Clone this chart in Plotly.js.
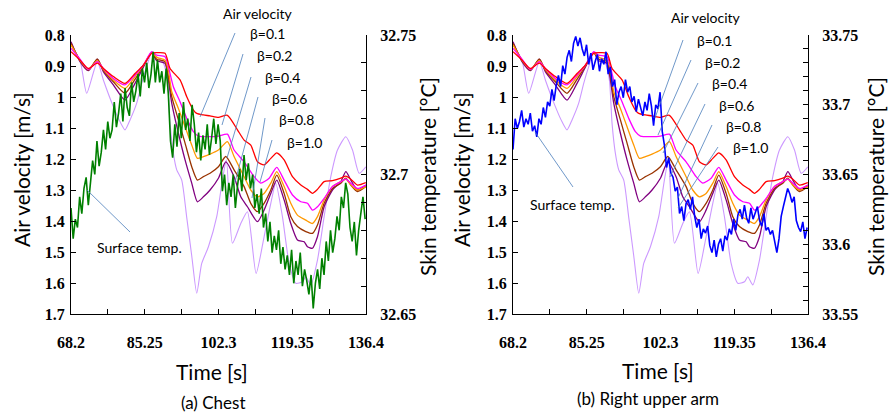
<!DOCTYPE html>
<html><head><meta charset="utf-8">
<script src="https://cdn.plot.ly/plotly-3.0.1.min.js"></script>
<style>html,body{margin:0;padding:0;background:#fff;}#chart{width:889px;height:416px;}</style>
</head><body><div id="chart"></div>
<script>
// ---------------- DATA ----------------
// Air velocity [m/s] for each beta (same air flow shown in both panels)
const tB01 = [68.2,70.28,72.21,74.29,75.68,77.99,80.69,83.0,84.93,86.86,88.02,89.94,91.1,93.41,94.96,96.5,97.27,98.81,100.35,102.28,104.36,106.68,108.22,109.76,111.3,112.84,114.39,115.77,117.47,119.4,121.33,122.87,124.02,125.18,126.72,128.65,130.58,131.74,132.89,134.43,136.36];
const vB01 = [0.854,0.881,0.908,0.891,0.908,0.934,0.956,0.924,0.897,0.859,0.857,0.859,0.908,0.945,0.999,1.042,1.053,1.058,1.061,1.066,1.059,1.106,1.139,1.155,1.209,1.219,1.198,1.18,1.203,1.257,1.284,1.298,1.311,1.298,1.273,1.27,1.262,1.255,1.265,1.284,1.276];

const tB02 = [68.2,70.28,72.21,74.29,75.68,77.99,80.69,83.0,84.93,86.86,88.02,89.94,90.71,91.87,93.41,94.96,96.5,97.66,100.35,102.28,104.36,105.9,108.22,110.53,112.07,114.0,115.77,117.47,119.4,121.33,122.87,124.02,125.18,126.72,128.65,130.58,131.74,132.89,134.43,136.36];
const vB02 = [0.843,0.878,0.911,0.886,0.908,0.94,0.961,0.929,0.897,0.854,0.865,0.87,0.902,0.967,1.015,1.069,1.112,1.126,1.128,1.126,1.12,1.171,1.209,1.257,1.278,1.262,1.227,1.268,1.316,1.338,1.343,1.365,1.354,1.327,1.289,1.273,1.265,1.278,1.295,1.284];

const tB04 = [68.2,70.28,72.21,74.29,75.68,77.99,80.69,83.0,84.93,86.86,88.02,89.94,90.71,91.49,93.03,94.57,96.11,97.42,98.81,100.35,102.28,104.36,105.9,108.22,109.76,111.3,112.84,114.39,115.77,117.47,119.01,120.55,122.48,124.02,125.18,126.72,128.65,130.58,131.74,132.89,134.43,136.36];
const vB04 = [0.832,0.881,0.911,0.883,0.911,0.945,0.972,0.934,0.897,0.857,0.872,0.881,0.913,0.983,1.037,1.096,1.155,1.198,1.192,1.184,1.171,1.144,1.192,1.257,1.3,1.322,1.311,1.278,1.241,1.289,1.343,1.381,1.397,1.408,1.386,1.332,1.289,1.273,1.265,1.284,1.3,1.289];

const tB06 = [68.2,70.28,72.21,74.29,75.68,77.99,80.69,83.0,84.93,86.86,88.02,89.94,90.71,91.49,93.03,94.57,96.11,97.42,98.81,100.35,102.28,103.98,105.9,108.22,109.76,111.3,112.84,114.39,115.77,117.47,119.01,120.55,122.48,124.02,125.18,126.72,128.65,130.58,131.74,132.89,134.43,136.36];
const vB06 = [0.827,0.883,0.913,0.878,0.913,0.951,0.988,0.943,0.9,0.857,0.878,0.886,0.934,0.999,1.074,1.149,1.225,1.268,1.257,1.246,1.225,1.192,1.235,1.289,1.343,1.37,1.343,1.3,1.252,1.311,1.386,1.418,1.434,1.44,1.413,1.343,1.295,1.278,1.262,1.284,1.305,1.289];

const tB08 = [68.2,70.28,72.21,74.29,75.68,77.99,80.69,83.0,84.93,86.86,88.02,89.94,90.71,91.49,93.03,94.57,96.11,97.42,98.81,100.35,102.28,103.98,105.9,107.45,108.99,111.3,112.84,114.39,115.77,117.47,119.01,120.55,122.1,122.87,124.02,125.18,126.72,128.65,130.58,131.74,132.89,134.43,136.36];
const vB08 = [0.822,0.886,0.915,0.878,0.918,0.961,1.01,0.956,0.904,0.857,0.883,0.891,0.945,1.02,1.117,1.203,1.278,1.338,1.322,1.3,1.262,1.209,1.257,1.322,1.354,1.402,1.365,1.311,1.268,1.332,1.408,1.461,1.467,1.483,1.488,1.451,1.354,1.3,1.273,1.241,1.268,1.3,1.284];

const tB10 = [68.2,70.28,71.83,74.29,75.68,77.99,79.54,80.69,81.85,83.39,84.55,85.7,86.86,88.02,89.56,90.48,91.1,91.87,92.64,93.8,94.96,96.11,97.27,98.42,99.97,101.89,103.2,104.13,105.52,107.45,108.99,110.99,112.84,114.39,115.54,117.08,118.63,120.17,121.71,122.48,123.64,125.18,126.72,128.26,129.81,131.74,133.28,134.82,136.36];
const vB10 = [0.832,0.881,0.988,0.886,0.945,1.031,1.08,1.106,1.074,1.02,0.956,0.902,0.857,0.87,0.891,0.945,1.085,1.182,1.235,1.268,1.389,1.512,1.633,1.537,1.483,1.386,1.268,1.203,1.472,1.408,1.37,1.569,1.451,1.343,1.278,1.386,1.537,1.601,1.596,1.58,1.606,1.526,1.386,1.257,1.171,1.128,1.171,1.246,1.225];

// Surface (skin) temperature samples [s]
const tSurf = [68.2,68.7,69.2,69.7,70.2,70.7,71.2,71.7,72.2,72.7,73.2,73.7,74.2,74.7,75.2,75.7,76.2,76.7,77.2,77.7,78.2,78.7,79.2,79.7,80.2,80.7,81.2,81.7,82.2,82.7,83.2,83.7,84.2,84.7,85.2,85.7,86.2,86.7,87.2,87.7,88.2,88.7,89.2,89.7,90.2,90.7,91.2,91.7,92.2,92.7,93.2,93.7,94.2,94.7,95.2,95.7,96.2,96.7,97.2,97.7,98.2,98.7,99.2,99.7,100.2,100.7,101.2,101.7,102.2,102.7,103.2,103.7,104.2,104.7,105.2,105.7,106.2,106.7,107.2,107.7,108.2,108.7,109.2,109.7,110.2,110.7,111.2,111.7,112.2,112.7,113.2,113.7,114.2,114.7,115.2,115.7,116.2,116.7,117.2,117.7,118.2,118.7,119.2,119.7,120.2,120.7,121.2,121.7,122.2,122.7,123.2,123.7,124.2,124.7,125.2,125.7,126.2,126.7,127.2,127.7,128.2,128.7,129.2,129.7,130.2,130.7,131.2,131.7,132.2,132.7,133.2,133.7,134.2,134.7,135.2,135.7,136.2];

// (a) Chest surface temperature [°C]
const chestTemp = [32.688,32.677,32.684,32.681,32.692,32.686,32.695,32.699,32.689,32.697,
32.705,32.700,32.712,32.703,32.708,32.716,32.709,32.719,32.713,32.716,
32.726,32.717,32.722,32.729,32.719,32.731,32.724,32.721,32.733,32.726,
32.730,32.736,32.728,32.738,32.733,32.740,32.731,32.736,32.744,32.733,
32.741,32.733,32.737,32.729,32.738,32.729,32.712,32.706,32.718,32.710,
32.722,32.713,32.726,32.716,32.720,32.712,32.725,32.718,32.708,32.715,
32.705,32.714,32.709,32.718,32.707,32.713,32.720,32.711,32.718,32.712,
32.694,32.700,32.689,32.697,32.692,32.700,32.688,32.696,32.702,32.694,
32.707,32.698,32.704,32.695,32.700,32.688,32.693,32.686,32.695,32.681,
32.686,32.676,32.683,32.672,32.678,32.673,32.680,32.668,32.674,32.666,
32.671,32.664,32.673,32.661,32.669,32.664,32.672,32.660,32.666,32.662,
32.657,32.664,32.652,32.661,32.666,32.659,32.670,32.664,32.676,32.669,
32.680,32.672,32.677,32.685,32.680,32.692,32.688,32.697,32.693,32.681,
32.676,32.683,32.671,32.680,32.687,32.692,32.684];

// (b) Right upper arm surface temperature [°C]
const armTemp = [33.668,33.690,33.683,33.688,33.696,33.684,33.690,33.686,33.694,33.681,
33.685,33.677,33.690,33.686,33.698,33.691,33.702,33.699,33.711,33.703,
33.714,33.721,33.713,33.728,33.722,33.734,33.739,33.731,33.744,33.749,
33.742,33.748,33.740,33.735,33.743,33.729,33.737,33.725,33.731,33.736,
33.724,33.733,33.729,33.738,33.722,33.727,33.713,33.718,33.700,33.709,
33.713,33.705,33.718,33.709,33.713,33.702,33.706,33.695,33.704,33.698,
33.692,33.702,33.696,33.708,33.699,33.685,33.700,33.697,33.709,33.681,
33.671,33.655,33.662,33.651,33.648,33.638,33.641,33.622,33.627,33.617,
33.629,33.632,33.625,33.634,33.620,33.612,33.618,33.604,33.611,33.608,
33.613,33.599,33.594,33.603,33.591,33.600,33.604,33.595,33.606,33.603,
33.611,33.607,33.618,33.610,33.621,33.625,33.618,33.628,33.619,33.615,
33.626,33.618,33.622,33.627,33.617,33.613,33.622,33.610,33.612,33.607,
33.610,33.601,33.594,33.604,33.620,33.627,33.634,33.640,33.636,33.630,
33.634,33.617,33.612,33.609,33.616,33.604,33.612];

// Tick labels
const xTickVals = [68.2,85.25,102.3,119.35,136.4];
const xTickText = ['68.2','85.25','102.3','119.35','136.4'];
const xMinorVals = [76.725,93.775,110.825,127.875];
const velTickVals = [0.8,0.9,1.0,1.1,1.2,1.3,1.4,1.5,1.6,1.7];
const velTickText = ['0.8','0.9','1','1.1','1.2','1.3','1.4','1.5','1.6','1.7'];
const chestTickVals = [32.65,32.7,32.75];
const chestTickText = ['32.65','32.7','32.75'];
const chestMinorVals = [32.66,32.67,32.68,32.69,32.71,32.72,32.73,32.74];
const armTickVals = [33.55,33.6,33.65,33.7,33.75];
const armTickText = ['33.55','33.6','33.65','33.7','33.75'];
const armMinorVals = [33.56,33.57,33.58,33.59,33.61,33.62,33.63,33.64,33.66,33.67,33.68,33.69,33.71,33.72,33.73,33.74];
const betaLabels = ['β=0.1','β=0.2','β=0.4','β=0.6','β=0.8','β=1.0'];

// ---------------- DRAWING ----------------
const W = 889, H = 416;
const fx = p => p / W, fy = p => 1 - p / H;

const air = [
  {t:tB10, v:vB10, c:'#cc99ff', w:1.1},
  {t:tB08, v:vB08, c:'#800080', w:1.3},
  {t:tB06, v:vB06, c:'#993300', w:1.3},
  {t:tB04, v:vB04, c:'#ff9900', w:1.3},
  {t:tB02, v:vB02, c:'#ff00ff', w:1.3},
  {t:tB01, v:vB01, c:'#ff0000', w:1.3}
];
const traces = [];
[['x','y'],['x2','y3']].forEach(([xa,ya]) => {
  air.forEach(s => traces.push({x:s.t, y:s.v, xaxis:xa, yaxis:ya, type:'scatter', mode:'lines',
    line:{color:s.c, width:s.w, shape:'spline', smoothing:0.6}, hoverinfo:'skip', showlegend:false}));
});
traces.push({x:tSurf, y:chestTemp, xaxis:'x', yaxis:'y2', type:'scatter', mode:'lines',
  line:{color:'#008000', width:1.6}, hoverinfo:'skip', showlegend:false});
traces.push({x:tSurf, y:armTemp, xaxis:'x2', yaxis:'y4', type:'scatter', mode:'lines',
  line:{color:'#0000ff', width:1.6}, hoverinfo:'skip', showlegend:false});

const tickFont = {family:'Liberation Serif', size:16, color:'#000', weight:'bold'};
const yDom = [fy(314), fy(35)];
function xAxis(dom, anchor) {
  return {domain:dom, anchor:anchor, range:[68.2,136.4], tickmode:'array', tickvals:xTickVals, ticktext:xTickText,
    ticks:'inside', ticklen:5, tickwidth:1, tickcolor:'#000', showline:true, linecolor:'#000', linewidth:1,
    showgrid:false, zeroline:false, tickfont:tickFont, ticklabelstandoff:14, fixedrange:true,
    minor:{tickmode:'array', tickvals:xMinorVals, ticks:'inside', ticklen:5, tickwidth:1, tickcolor:'#000', showgrid:false}};
}
function velAxis(anchor) {
  return {domain:yDom, anchor:anchor, range:[1.7,0.8], tickmode:'array', tickvals:velTickVals, ticktext:velTickText,
    ticks:'inside', ticklen:5, tickwidth:1, tickcolor:'#000', showline:true, linecolor:'#000', linewidth:1,
    showgrid:false, zeroline:false, tickfont:tickFont, ticklabelstandoff:2, fixedrange:true};
}
function tempAxis(overlay, anchor, range, tv, tt, mv) {
  return {overlaying:overlay, side:'right', anchor:anchor, range:range, tickmode:'array', tickvals:tv, ticktext:tt,
    ticks:'inside', ticklen:5, tickwidth:1, tickcolor:'#000', showline:true, linecolor:'#000', linewidth:1,
    showgrid:false, zeroline:false, tickfont:tickFont, ticklabelstandoff:10, fixedrange:true,
    minor:{tickmode:'array', tickvals:mv, ticks:'inside', ticklen:5, tickwidth:1, tickcolor:'#000', showgrid:false}};
}

const labFont = {family:'Lato', size:14, color:'#000'};
const titleFont = {family:'Lato', size:21, color:'#000'};
const capFont = {family:'Lato', size:17, color:'#000'};
const ann = [];
const shapes = [];
function txt(x, y, text, font, angle) {
  ann.push({xref:'paper', yref:'paper', x:fx(x), y:fy(y), text:text, showarrow:false, font:font,
    textangle:angle||0, xanchor:'center', yanchor:'middle'});
}
function seg(x0, y0, x1, y1) {
  shapes.push({type:'line', xref:'paper', yref:'paper', x0:fx(x0), y0:fy(y0), x1:fx(x1), y1:fy(y1),
    line:{color:'#4a7ebb', width:0.8}});
}
// panel (a)
txt(21, 170, 'Air velocity [m/s]', titleFont, -90);
txt(428, 177, 'Skin temperature [°C]', titleFont, -90);
txt(212, 371, 'Time [s]', titleFont);
txt(213, 402, '(a) Chest', capFont);
txt(258, 13, 'Air velocity', labFont);
const aLab = [[263,33],[270,56],[278,77],[285,98],[292,119],[300,142]];
const aSeg = [[235,33,200,117],[243,54,222,125],[251,77,227,158],[258,97,235,182],[265,118,252,198],[272,140,260,182]];
betaLabels.forEach((b,i) => { txt(aLab[i][0]+4, aLab[i][1], b, labFont); seg(...aSeg[i]); });
txt(139, 247, 'Surface temp.', labFont);
seg(87, 190, 130, 232);
// panel (b)
txt(461, 170, 'Air velocity [m/s]', titleFont, -90);
txt(876, 177, 'Skin temperature [°C]', titleFont, -90);
txt(658, 370, 'Time [s]', titleFont);
txt(648, 398, '(b) Right upper arm', capFont);
txt(706, 18, 'Air velocity', labFont);
const bLab = [[710,41],[718,62],[725,83],[732,105],[739,126],[746,147]];
const bSeg = [[683,40,655,118],[691,60,658,135],[698,83,663,153],[705,104,670,177],[712,125,678,198],[718,147,678,208]];
betaLabels.forEach((b,i) => { txt(bLab[i][0]+4, bLab[i][1], b, labFont); seg(...bSeg[i]); });
txt(572, 204, 'Surface temp.', labFont);
seg(535, 132, 573, 187);

const layout = {
  width:W, height:H, margin:{l:0, r:0, t:0, b:0}, paper_bgcolor:'#fff', plot_bgcolor:'rgba(0,0,0,0)',
  showlegend:false, hovermode:false,
  xaxis: xAxis([fx(71), fx(366)], 'y'),
  yaxis: velAxis('x'),
  yaxis2: tempAxis('y', 'x', [32.65,32.75], chestTickVals, chestTickText, chestMinorVals),
  xaxis2: xAxis([fx(513), fx(808)], 'y3'),
  yaxis3: velAxis('x2'),
  yaxis4: tempAxis('y3', 'x2', [33.55,33.75], armTickVals, armTickText, armMinorVals),
  annotations: ann, shapes: shapes
};
Plotly.newPlot('chart', traces, layout, {staticPlot:true, displayModeBar:false});
</script></body></html>
